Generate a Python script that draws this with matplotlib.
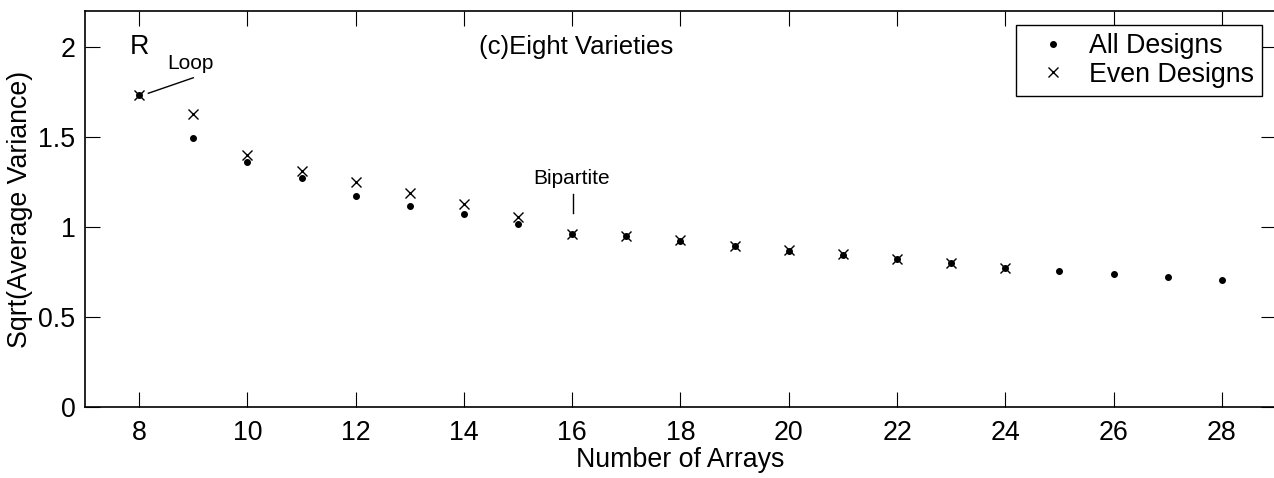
import matplotlib.pyplot as plt

plt.rcParams["font.family"] = ["Liberation Sans", "DejaVu Sans"]

# number of arrays
arrays_all = [8, 9, 10, 11, 12, 13, 14, 15, 16, 17, 18, 19, 20, 21, 22, 23, 24, 25, 26, 27, 28]
sd_all = [1.733, 1.496, 1.363, 1.270, 1.172, 1.118, 1.070, 1.017, 0.963, 0.950, 0.922,
          0.893, 0.867, 0.845, 0.820, 0.798, 0.771, 0.757, 0.739, 0.722, 0.707]

arrays_even = [8, 9, 10, 11, 12, 13, 14, 15, 16, 17, 18, 19, 20, 21, 22, 23, 24]
sd_even = [1.733, 1.626, 1.400, 1.313, 1.252, 1.187, 1.127, 1.055, 0.963, 0.952, 0.926,
           0.896, 0.871, 0.850, 0.824, 0.800, 0.773]

x_ticks = [8, 10, 12, 14, 16, 18, 20, 22, 24, 26, 28]
y_ticks = [0, 0.5, 1, 1.5, 2]
y_ticklabels = ["0", "0.5", "1", "1.5", "2"]

fs = 19.3

fig = plt.figure(figsize=(12.74, 4.78), dpi=100)
ax = fig.add_axes([85 / 1274, 71 / 478, 1191 / 1274, 396 / 478])

ax.plot(arrays_all, sd_all, ls="none", marker="o", ms=4.0, color="black",
        label="All Designs")
ax.plot(arrays_even, sd_even, ls="none", marker="x", ms=7.5, mew=1.0, color="black",
        label="Even Designs")

ax.set_xlim(7, 29)
ax.set_ylim(0, 2.2)
ax.set_xticks(x_ticks)
ax.set_yticks(y_ticks)
ax.set_yticklabels(y_ticklabels)
ax.tick_params(direction="in", length=11, width=0.8, labelsize=fs,
               top=True, right=True)
ax.tick_params(axis="x", pad=9)
ax.tick_params(axis="y", pad=7)
for s in ax.spines.values():
    s.set_linewidth(1.2)

ax.set_xlabel("Number of Arrays", fontsize=fs, labelpad=1)
ax.set_ylabel("Sqrt(Average Variance)", fontsize=fs, labelpad=4)

# annotations
ax.text(8, 2.0, "R", fontsize=fs, ha="center", va="center")
ax.text(16.08, 2.0, "(c)Eight Varieties", fontsize=18.5, ha="center", va="center")
ax.text(8.95, 1.91, "Loop", fontsize=15, ha="center", va="center")
ax.plot([8.17, 9.0], [1.743, 1.829], color="black", lw=1.0)
ax.text(15.98, 1.27, "Bipartite", fontsize=15, ha="center", va="center")
ax.plot([16.02, 16.02], [1.079, 1.183], color="black", lw=1.0)

leg = ax.legend(loc="upper right", bbox_to_anchor=(1177 / 1191, 1 - 14 / 396),
                fontsize=fs, fancybox=False, edgecolor="black",
                borderaxespad=0, handletextpad=0.26, borderpad=0.3,
                labelspacing=0.1, handlelength=2.16)
leg.get_frame().set_linewidth(1.0)
leg.get_frame().set_alpha(1)

fig.savefig("out.png", dpi=100)
